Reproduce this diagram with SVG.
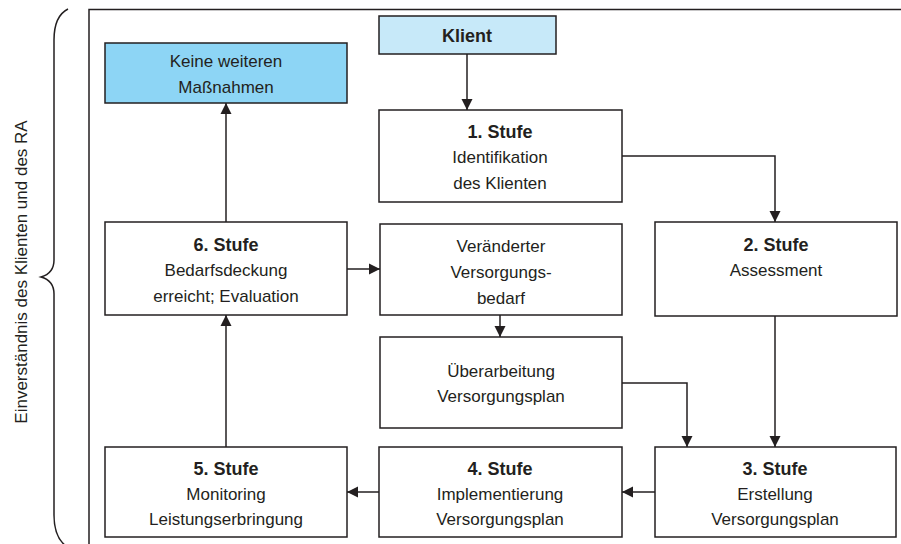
<svg xmlns="http://www.w3.org/2000/svg" width="901" height="544" viewBox="0 0 901 544">
<style>
.box{fill:#fff;stroke:#231f20;stroke-width:1.5}
.t{font-family:"Liberation Sans",Arial,sans-serif;font-size:17px;fill:#231f20;text-anchor:middle}
.b{font-weight:bold;font-size:18px}
.c{fill:none;stroke:#231f20;stroke-width:1.5}
</style>
<defs>
<marker id="ah" viewBox="0 0 10 10" refX="10" refY="5" markerWidth="11" markerHeight="12" markerUnits="userSpaceOnUse" orient="auto">
<path d="M0,0 L10,5 L0,10 Z" fill="#231f20"/>
</marker>
</defs>
<rect width="901" height="544" fill="#fff"/>
<g id="frame">
<path d="M89,546 L89,9.5 L903,9.5" class="c"/>
<path d="M68,9 C58,14 54,24 54,40 L54,260 C54,270 48,275 41,277 C48,279 54,284 54,294 L54,515 C54,530 58,540 66,546" class="c"/>
<text class="t" transform="translate(27,272) rotate(-90)">Einverständnis des Klienten und des RA</text>
</g>
<g id="connectors">
<path d="M467,54 V110" class="c" marker-end="url(#ah)"/>
<path d="M622,156 H775 V222" class="c" marker-end="url(#ah)"/>
<path d="M775,316 V447" class="c" marker-end="url(#ah)"/>
<path d="M622,383 H687 V447" class="c" marker-end="url(#ah)"/>
<path d="M655,492 H622" class="c" marker-end="url(#ah)"/>
<path d="M379,492 H347" class="c" marker-end="url(#ah)"/>
<path d="M226,447 V315" class="c" marker-end="url(#ah)"/>
<path d="M226,222 V103" class="c" marker-end="url(#ah)"/>
<path d="M347,269 H380" class="c" marker-end="url(#ah)"/>
<path d="M500,315 V337" class="c" marker-end="url(#ah)"/>
</g>
<g id="keine">
<rect x="105" y="43" width="242" height="60" class="box" style="fill:#8dd5f5"/>
<text class="t" x="226" y="67">Keine weiteren</text>
<text class="t" x="226" y="93">Maßnahmen</text>
</g>
<g id="klient">
<rect x="379" y="16" width="177" height="38" class="box" style="fill:#c7e9f9"/>
<text class="t b" x="467" y="42">Klient</text>
</g>
<g id="stufe1">
<rect x="379" y="110" width="243" height="92" class="box"/>
<text class="t b" x="500" y="138">1. Stufe</text>
<text class="t" x="500" y="163">Identifikation</text>
<text class="t" x="500" y="189">des Klienten</text>
</g>
<g id="stufe2">
<rect x="655" y="222" width="242" height="94" class="box"/>
<text class="t b" x="776" y="251">2. Stufe</text>
<text class="t" x="776" y="276">Assessment</text>
</g>
<g id="stufe6">
<rect x="105" y="222" width="242" height="93" class="box"/>
<text class="t b" x="226" y="251">6. Stufe</text>
<text class="t" x="226" y="276">Bedarfsdeckung</text>
<text class="t" x="226" y="302">erreicht; Evaluation</text>
</g>
<g id="veraendert">
<rect x="380" y="224" width="242" height="91" class="box"/>
<text class="t" x="501" y="252">Veränderter</text>
<text class="t" x="501" y="278">Versorgungs-</text>
<text class="t" x="501" y="304">bedarf</text>
</g>
<g id="ueberarbeitung">
<rect x="380" y="337" width="242" height="91" class="box"/>
<text class="t" x="501" y="377">Überarbeitung</text>
<text class="t" x="501" y="402">Versorgungsplan</text>
</g>
<g id="stufe5">
<rect x="105" y="447" width="242" height="90" class="box"/>
<text class="t b" x="226" y="475">5. Stufe</text>
<text class="t" x="226" y="500">Monitoring</text>
<text class="t" x="226" y="525">Leistungserbringung</text>
</g>
<g id="stufe4">
<rect x="379" y="447" width="243" height="90" class="box"/>
<text class="t b" x="500" y="475">4. Stufe</text>
<text class="t" x="500" y="500">Implementierung</text>
<text class="t" x="500" y="525">Versorgungsplan</text>
</g>
<g id="stufe3">
<rect x="655" y="447" width="241" height="90" class="box"/>
<text class="t b" x="775" y="475">3. Stufe</text>
<text class="t" x="775" y="500">Erstellung</text>
<text class="t" x="775" y="525">Versorgungsplan</text>
</g>
</svg>
